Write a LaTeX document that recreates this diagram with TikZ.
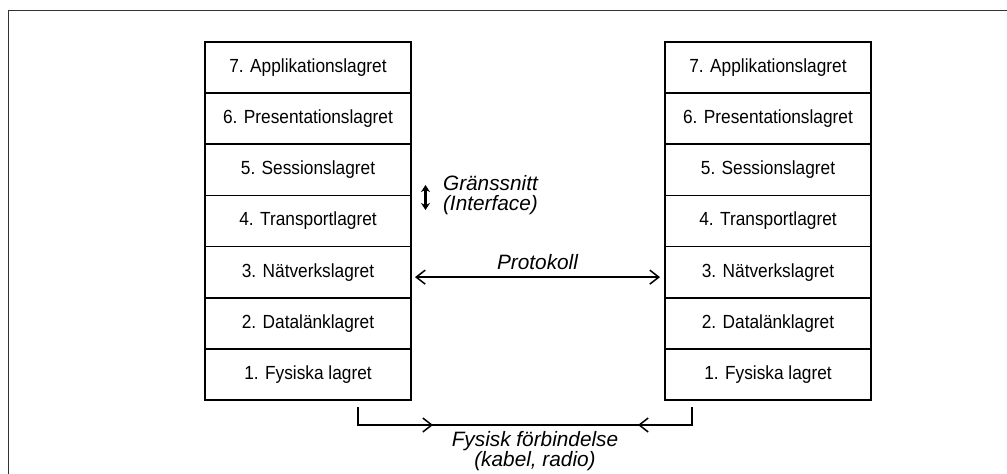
\documentclass[tikz,border=0pt]{standalone}
\usepackage{fontspec}
\setmainfont{Liberation Sans}
\newfontfamily\layerfont[FakeStretch=0.91]{Liberation Sans}
\usetikzlibrary{arrows.meta,positioning}
\definecolor{frameink}{HTML}{333333}

\begin{document}
\begin{tikzpicture}[
  x=0.5pt,y=-0.5pt,
  every node/.style={font=\layerfont\fontsize{9.5}{11}\selectfont,align=center},
  layer/.style={draw,line width=0.85pt,outer sep=0pt,inner sep=0pt,minimum width=103pt,minimum height=25.57pt},
  lbl/.style={font=\fontsize{10.4}{10}\selectfont\itshape},
  arrow/.style={-{Straight Barb[length=4.5pt,width=7pt]},line width=0.75pt},
  both/.style={{Straight Barb[length=4.5pt,width=7pt]}-{Straight Barb[length=4.5pt,width=7pt]},line width=0.75pt},
  iface/.style={{Stealth[length=3.5pt,width=4.5pt]}-{Stealth[length=3.5pt,width=4.5pt]},line width=1.1pt},
  conn/.style={line width=0.75pt}
]
\useasboundingbox (0,0) rectangle (1007,473);
\draw[frameink,line width=0.9pt] (8.5,490) -- (8.5,10.5) -- (1015,10.5);

% left stack
\node[layer] (L7) at (308,67.57) {7. Applikationslagret};
\node[layer,below=0pt of L7] (L6) {6. Presentationslagret};
\node[layer,below=0pt of L6] (L5) {5. Sessionslagret};
\node[layer,below=0pt of L5] (L4) {4. Transportlagret};
\node[layer,below=0pt of L4] (L3) {3. Nätverkslagret};
\node[layer,below=0pt of L3] (L2) {2. Datalänklagret};
\node[layer,below=0pt of L2] (L1) {1. Fysiska lagret};

% right stack
\node[layer] (R7) at (768,67.57) {7. Applikationslagret};
\node[layer,below=0pt of R7] (R6) {6. Presentationslagret};
\node[layer,below=0pt of R6] (R5) {5. Sessionslagret};
\node[layer,below=0pt of R5] (R4) {4. Transportlagret};
\node[layer,below=0pt of R4] (R3) {3. Nätverkslagret};
\node[layer,below=0pt of R3] (R2) {2. Datalänklagret};
\node[layer,below=0pt of R2] (R1) {1. Fysiska lagret};

% interface
\coordinate (ia) at (425.5,185);
\coordinate (ib) at (425.5,210);
\draw[iface] (ia) -- (ib);
\node[lbl,anchor=west,align=left] (iftxt) at (436,195) {Gränssnitt\\(Interface)};

% protocol
\draw[both] ([xshift=2pt,yshift=-2.5pt]L3.east) --
  node[lbl,above=0pt] (prot) {Protokoll}
  ([xshift=-2.5pt,yshift=-2.5pt]R3.west);

% physical link
\coordinate (c0) at ([xshift=25pt,yshift=-3.5pt]L1.south);
\coordinate (c1) at ([yshift=-9pt]c0);
\coordinate (d0) at ([xshift=-38pt,yshift=-3.5pt]R1.south);
\coordinate (d1) at ([yshift=-9pt]d0);
\coordinate (m0) at ([xshift=37.5pt]c1);
\coordinate (m1) at ([xshift=-27pt]d1);
\draw[conn] (c0) -- (c1) -- (d1) -- (d0);
\draw[arrow] (c1) -- (m0);
\draw[arrow] (d1) -- (m1);
\node[lbl] (phys) at (535,451) {Fysisk förbindelse\\(kabel, radio)};
\end{tikzpicture}
\end{document}
